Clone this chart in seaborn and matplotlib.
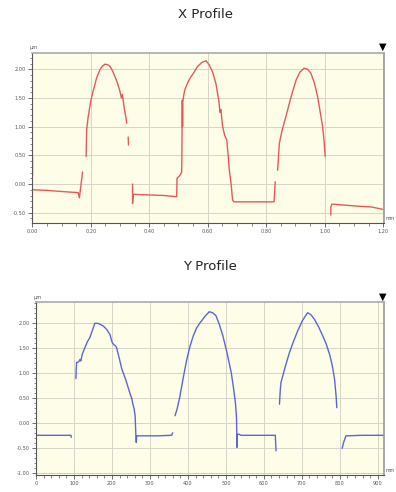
import numpy as np
import pandas as pd
import matplotlib
matplotlib.use("Agg")
import matplotlib.pyplot as plt
import seaborn as sns
from matplotlib.ticker import MultipleLocator, FormatStrFormatter

# ---------------- data: X profile (red) ----------------
x_seg_ids = [1, 2, 3, 4, 5, 6, 7]
x_prof_x = [
    [0.0, 0.0],
    [0.002, 0.05, 0.10, 0.157, 0.161, 0.168, 0.172],
    [0.184, 0.186, 0.191, 0.20, 0.209, 0.22, 0.231, 0.240, 0.249, 0.258, 0.266, 0.275,
     0.283, 0.292, 0.30, 0.305, 0.308, 0.311, 0.315, 0.319, 0.323],
    [0.328, 0.329],
    [0.343, 0.343, 0.345, 0.40, 0.45, 0.494, 0.495, 0.505, 0.511, 0.513, 0.514, 0.515,
     0.518, 0.522, 0.53, 0.54, 0.551, 0.565, 0.58, 0.594, 0.605, 0.617, 0.628, 0.638,
     0.642, 0.645, 0.651, 0.658, 0.665, 0.668, 0.670, 0.674, 0.680, 0.685, 0.69, 0.75,
     0.827, 0.831],
    [0.839, 0.845, 0.855, 0.867, 0.885, 0.902, 0.915, 0.93, 0.942, 0.953, 0.965, 0.976,
     0.985, 0.993, 0.998, 1.002],
    [1.021, 1.021, 1.025, 1.10, 1.16, 1.198],
]
x_prof_y = [
    [0.48, 0.15],
    [-0.10, -0.11, -0.13, -0.15, -0.24, 0.05, 0.21],
    [0.48, 0.95, 1.17, 1.45, 1.64, 1.85, 1.99, 2.06, 2.09, 2.08, 2.05, 1.97,
     1.87, 1.75, 1.61, 1.50, 1.56, 1.46, 1.30, 1.20, 1.06],
    [0.82, 0.68],
    [0.00, -0.34, -0.18, -0.19, -0.20, -0.22, 0.10, 0.15, 0.21, 1.46, 1.00, 1.44,
     1.55, 1.65, 1.75, 1.85, 1.93, 2.05, 2.12, 2.15, 2.08, 1.95, 1.75, 1.45,
     1.25, 1.30, 1.00, 0.85, 0.77, 0.60, 0.50, 0.24, 0.00, -0.28, -0.31, -0.31,
     -0.31, 0.04],
    [0.24, 0.71, 0.95, 1.17, 1.52, 1.81, 1.95, 2.02, 2.00, 1.93, 1.76, 1.52,
     1.25, 1.00, 0.75, 0.48],
    [-0.54, -0.40, -0.35, -0.38, -0.40, -0.44],
]

# ---------------- data: Y profile (blue) ----------------
y_seg_ids = [1, 2, 3, 4, 5]
y_prof_x = [
    [0, 92, 93],
    [105, 106, 107, 112, 116, 118, 122, 129, 135, 142, 148, 155, 162, 169, 178, 186,
     195, 200, 204, 208, 212, 219, 226, 237, 248, 252, 255, 258, 261, 263, 264, 265,
     280, 320, 357, 360],
    [366, 368, 371, 375, 379, 388, 397, 405, 414, 423, 432, 444, 456, 465, 474, 483,
     492, 503, 514, 520, 525, 528, 529, 530, 535, 540, 580, 630, 632],
    [641, 643, 645, 656, 667, 678, 689, 702, 715, 724, 733, 744, 755, 764, 773, 780,
     786, 790, 792],
    [806, 810, 816, 860, 917],
]
y_prof_y = [
    [-0.24, -0.24, -0.28],
    [0.89, 1.10, 1.21, 1.22, 1.27, 1.24, 1.38, 1.51, 1.62, 1.71, 1.84, 1.99, 1.99,
     1.97, 1.93, 1.87, 1.76, 1.62, 1.57, 1.55, 1.51, 1.30, 1.08, 0.85, 0.58, 0.50,
     0.38, 0.30, 0.15, -0.25, -0.38, -0.25, -0.25, -0.25, -0.24, -0.19],
    [0.15, 0.20, 0.27, 0.40, 0.54, 0.92, 1.27, 1.52, 1.74, 1.90, 2.00, 2.12, 2.22,
     2.20, 2.14, 1.96, 1.74, 1.40, 1.01, 0.70, 0.41, 0.10, -0.48, -0.22, -0.22,
     -0.24, -0.24, -0.24, -0.55],
    [0.38, 0.65, 0.81, 1.12, 1.40, 1.63, 1.84, 2.05, 2.20, 2.16, 2.07, 1.92, 1.74,
     1.58, 1.37, 1.15, 0.88, 0.55, 0.31],
    [-0.50, -0.38, -0.25, -0.24, -0.24],
]

titles = ["X Profile", "Y Profile"]
x_ticks_top = [0.0, 0.2, 0.4, 0.6, 0.8, 1.0, 1.2]
y_ticks_top = [-0.5, 0.0, 0.5, 1.0, 1.5, 2.0]
x_ticks_bot = [0, 100, 200, 300, 400, 500, 600, 700, 800, 900]
y_ticks_bot = [-1.0, -0.5, 0.0, 0.5, 1.0, 1.5, 2.0]


def make_df(ids, xs, ys):
    rows = []
    for sid, sx, sy in zip(ids, xs, ys):
        for a, b in zip(sx, sy):
            rows.append((sid, a, b))
    return pd.DataFrame(rows, columns=["seg", "x", "y"])


df_x = make_df(x_seg_ids, x_prof_x, x_prof_y)
df_y = make_df(y_seg_ids, y_prof_x, y_prof_y)

sns.set_style("white")
plt.rcParams["font.family"] = ["DejaVu Sans"]

W, H = 396, 492
fig = plt.figure(figsize=(W / 100, H / 100), dpi=100)
fig.patch.set_facecolor("white")

ax1 = fig.add_axes([32.3 / W, 1 - 222.7 / H, (384.3 - 32.3) / W, (222.7 - 52.7) / H])
ax2 = fig.add_axes([36 / W, 1 - 475 / H, (384.3 - 36) / W, (475 - 301.7) / H])

sns.lineplot(data=df_x, x="x", y="y", units="seg", estimator=None, sort=False,
             color="#e8585a", linewidth=1.0, ax=ax1)
sns.lineplot(data=df_y, x="x", y="y", units="seg", estimator=None, sort=False,
             color="#5a66d8", linewidth=1.0, ax=ax2)

configs = [
    (ax1, (0, 1.204), (-0.674, 2.29), x_ticks_top, y_ticks_top, 0.05, 0.1, "%.2f", "%.2f"),
    (ax2, (0, 917), (-1.03, 2.42), x_ticks_bot, y_ticks_bot, 20, 0.1, "%d", "%.2f"),
]
for ax, xl, yl, xt, yt, xminor, yminor, xfmt, yfmt in configs:
    ax.set_facecolor("#fdfde8")
    ax.set_xlim(*xl)
    ax.set_ylim(*yl)
    ax.set_xticks(xt)
    ax.set_yticks(yt)
    ax.xaxis.set_major_formatter(FormatStrFormatter(xfmt))
    ax.yaxis.set_major_formatter(FormatStrFormatter(yfmt))
    ax.xaxis.set_minor_locator(MultipleLocator(xminor))
    ax.yaxis.set_minor_locator(MultipleLocator(yminor))
    ax.grid(True, which="major", color="#d4d4c8", linewidth=0.7)
    ax.tick_params(axis="both", which="major", direction="out", length=3, width=0.6,
                   labelsize=3.6, colors="#555555", pad=1.5,
                   bottom=True, left=True)
    ax.tick_params(axis="both", which="minor", direction="out", length=1.8, width=0.5,
                   colors="#555555", bottom=True, left=True)
    ax.set_xlabel("")
    ax.set_ylabel("")
    for side in ["left", "bottom"]:
        ax.spines[side].set_color("#555555")
        ax.spines[side].set_linewidth(0.8)
    ax.spines["top"].set_color("#aaaaaa")
    ax.spines["right"].set_color("#999999")
    ax.spines["top"].set_linewidth(1.2)
    ax.spines["right"].set_linewidth(1.2)
    ax.set_axisbelow(True)

fig.text(206 / W, 1 - 15 / H, titles[0], ha="center", va="center", fontsize=9.5, color="#222222")
fig.text(210 / W, 1 - 266 / H, titles[1], ha="center", va="center", fontsize=9.5, color="#222222")

# unit labels
fig.text(34 / W, 1 - 48 / H, "µm", fontsize=3.6, color="#555555", ha="center", va="center")
fig.text(395 / W, 1 - 218 / H, "mm", fontsize=3.4, color="#555555", ha="right", va="center")
fig.text(38 / W, 1 - 298 / H, "µm", fontsize=3.6, color="#555555", ha="center", va="center")
fig.text(395 / W, 1 - 470 / H, "mm", fontsize=3.4, color="#555555", ha="right", va="center")

# triangle markers
fig.text(383 / W, 1 - 47 / H, "▼", fontsize=7, color="black", ha="center", va="center")
fig.text(383 / W, 1 - 297 / H, "▼", fontsize=7, color="black", ha="center", va="center")

fig.savefig("out.png", dpi=100, facecolor="white")
